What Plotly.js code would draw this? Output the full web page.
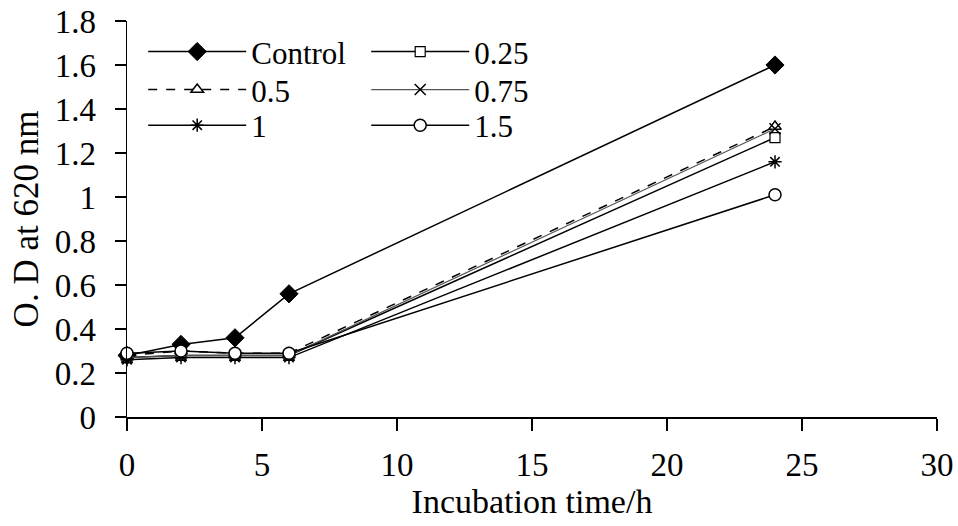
<!DOCTYPE html>
<html>
<head>
<meta charset="utf-8">
<script src="https://cdn.plot.ly/plotly-3.0.1.min.js"></script>
<style>html,body{margin:0;padding:0;background:#fff;}#chart{width:958px;height:526px;}</style>
</head>
<body>
<div id="chart"></div>
<script>
const hours = [0, 2, 4, 6, 24];
const seriesNames = ["Control", "0.25", "0.5", "0.75", "1", "1.5"];
const control = [0.28, 0.33, 0.36, 0.56, 1.60];
const c025 = [0.27, 0.28, 0.28, 0.28, 1.27];
const c05 = [0.28, 0.30, 0.29, 0.29, 1.32];
const c075 = [0.27, 0.28, 0.28, 0.28, 1.31];
const c1 = [0.26, 0.27, 0.27, 0.27, 1.16];
const c15 = [0.29, 0.30, 0.29, 0.29, 1.01];
const xTicks = [0, 5, 10, 15, 20, 25, 30];
const yTicks = [0, 0.2, 0.4, 0.6, 0.8, 1, 1.2, 1.4, 1.6, 1.8];

const font = "Liberation Serif";
function tr(name, y, sym, size, fill, lineColor, dash, legend, lw, mlw) {
  return {
    x: hours, y: y, name: name, type: "scatter", mode: "lines+markers",
    cliponaxis: false, legend: legend,
    line: {color: lineColor, width: lw, dash: dash},
    marker: {symbol: sym, size: size, color: fill, line: {color: "#000", width: mlw}}
  };
}
const data = [
  tr(seriesNames[0], control, "diamond", 14, "#000", "#000", "solid", "legend", 1.5, 1),
  tr(seriesNames[1], c025, "square", 10, "#fff", "#000", "solid", "legend", 1.5, 1.2),
  tr(seriesNames[2], c05, "triangle-up", 11, "#fff", "#000", "dash", "legend2", 1.5, 1.5),
  tr(seriesNames[3], c075, "x-thin-open", 11, "#000", "#555", "solid", "legend2", 1.2, 1.5),
  tr(seriesNames[4], c1, "asterisk-open", 11, "#000", "#000", "solid", "legend3", 1.5, 1.5),
  tr(seriesNames[5], c15, "circle", 12, "#fff", "#000", "solid", "legend3", 1.5, 1.5)
];
function leg(y) {
  return {x: 0.02, y: y, xanchor: "left", yanchor: "middle", orientation: "h",
    bgcolor: "rgba(0,0,0,0)", font: {family: font, size: 31},
    itemwidth: 98, entrywidth: 110, entrywidthmode: "pixels", traceorder: "normal"};
}
const layout = {
  width: 958, height: 526,
  margin: {l: 127, r: 21, t: 21, b: 109},
  paper_bgcolor: "#fff", plot_bgcolor: "#fff",
  font: {family: font, size: 32, color: "#000"},
  showlegend: true,
  xaxis: {
    range: [0, 30], tickvals: xTicks, ticktext: xTicks.map(String),
    showline: true, linecolor: "#000", linewidth: 1.5, showgrid: false, zeroline: false,
    ticks: "outside", ticklen: 12, tickwidth: 1.5, tickcolor: "#000", ticklabelstandoff: 6,
    tickfont: {family: font, size: 33}, title: {text: "Incubation time/h", font: {family: font, size: 34}, standoff: 0}
  },
  yaxis: {
    range: [0, 1.8], tickvals: yTicks, ticktext: yTicks.map(String),
    showline: true, linecolor: "#000", linewidth: 1.5, showgrid: false, zeroline: false,
    ticks: "outside", ticklen: 11, tickwidth: 1.5, tickcolor: "#000", ticklabelstandoff: 12,
    tickfont: {family: font, size: 33}, title: {text: "O. D at 620 nm", font: {family: font, size: 35}, standoff: 5}
  },
  legend: leg(0.922),
  legend2: leg(0.826),
  legend3: leg(0.736)
};
Plotly.newPlot("chart", data, layout, {staticPlot: true, displayModeBar: false});
</script>
</body>
</html>
